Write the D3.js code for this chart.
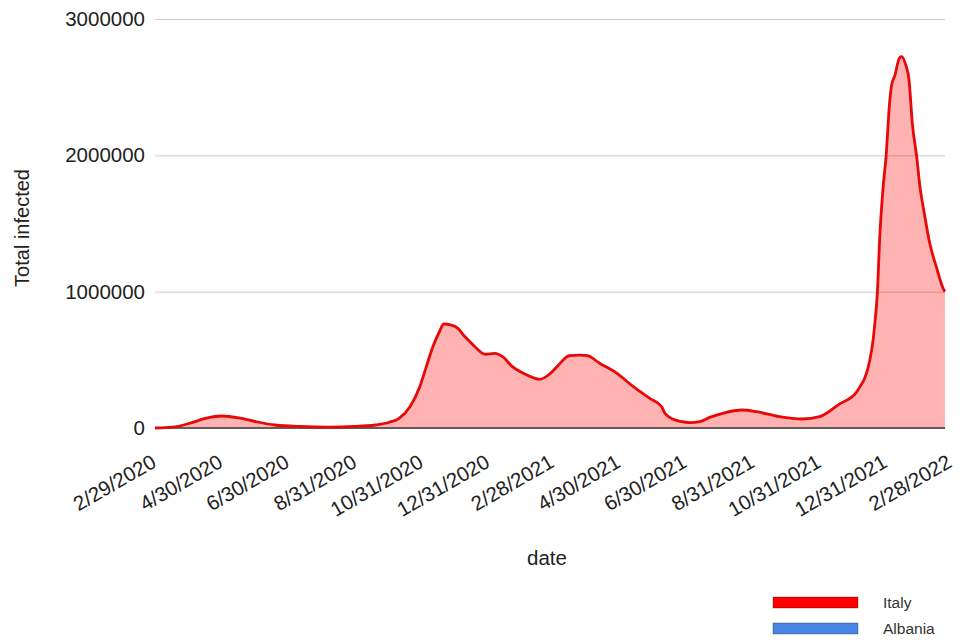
<!DOCTYPE html>
<html>
<head>
<meta charset="utf-8">
<script src="https://cdn.jsdelivr.net/npm/d3@7"></script>
<style>
  html, body { margin: 0; padding: 0; background: #fff; }
  svg { display: block; font-family: "Liberation Sans", Arial, sans-serif; }
</style>
</head>
<body>
<svg id="chart" width="963" height="641"></svg>
<script>
// Italy, total infected (active cases) by date
const dates = [
  "2/28/2020","3/15/2020","3/31/2020","4/14/2020","4/29/2020","5/16/2020","6/1/2020","6/17/2020",
  "7/10/2020","8/6/2020","8/29/2020","9/17/2020","9/30/2020","10/9/2020","10/19/2020","10/28/2020",
  "11/3/2020","11/9/2020","11/15/2020","11/19/2020","11/26/2020","12/2/2020","12/7/2020","12/13/2020",
  "12/19/2020","12/27/2020","1/5/2021","1/12/2021","1/21/2021","1/31/2021","2/9/2021","2/15/2021",
  "2/24/2021","3/5/2021","3/14/2021","3/24/2021","3/31/2021","4/11/2021","4/27/2021","5/12/2021",
  "5/27/2021","6/7/2021","6/10/2021","6/17/2021","7/3/2021","7/12/2021","7/21/2021","8/2/2021",
  "8/20/2021","9/2/2021","9/23/2021","10/14/2021","10/30/2021","11/17/2021","12/3/2021","12/6/2021",
  "12/10/2021","12/13/2021","12/16/2021","12/18/2021","12/20/2021","12/22/2021","12/24/2021","12/27/2021",
  "12/30/2021","1/2/2022","1/4/2022","1/7/2022","1/11/2022","1/13/2022","1/17/2022","1/20/2022",
  "1/23/2022","1/27/2022","1/30/2022","2/3/2022","2/8/2022","2/14/2022","2/21/2022","2/22/2022"
];
const italy = [
  0, 6000, 35000, 70000, 88000, 73000, 44000, 22000,
  11000, 7000, 11000, 22000, 42000, 71000, 156000, 303000,
  450000, 596000, 706000, 763000, 755000, 731000, 682000, 633000,
  585000, 541000, 548000, 523000, 450000, 401000, 369000, 357000,
  395000, 468000, 530000, 535000, 530000, 475000, 401000, 303000,
  218000, 156000, 108000, 66000, 39000, 46000, 78000, 108000,
  132000, 120000, 83000, 66000, 83000, 175000, 265000, 303000,
  360000, 430000, 540000, 645000, 800000, 1000000, 1380000, 1746000,
  2000000, 2370000, 2515000, 2587000, 2711000, 2724000, 2663000, 2553000,
  2235000, 1990000, 1770000, 1575000, 1355000, 1183000, 1012000, 1000000
];

const xTickLabels = [
  "2/29/2020","4/30/2020","6/30/2020","8/31/2020","10/31/2020","12/31/2020",
  "2/28/2021","4/30/2021","6/30/2021","8/31/2021","10/31/2021","12/31/2021","2/28/2022"
];
const yTicks = [0, 1000000, 2000000, 3000000];

const seriesNames = ["Italy", "Albania"];
const seriesColors = ["#ff0000", "#4a86e8"];

const parse = d3.timeParse("%m/%d/%Y");
const data = dates.map((d, i) => ({ date: parse(d), value: italy[i] }));

const svg = d3.select("#chart");
const plotLeft = 155, plotRight = 945, plotTop = 19, plotBottom = 428;

const x = d3.scaleTime()
  .domain([parse("2/28/2020"), parse("2/22/2022")])
  .range([plotLeft, plotRight]);
const y = d3.scaleLinear()
  .domain([0, 3000000])
  .range([plotBottom, plotTop]);

// horizontal gridlines + value labels
const yAxis = svg.append("g")
  .attr("transform", `translate(${plotLeft},0)`)
  .call(d3.axisLeft(y).tickValues(yTicks).tickFormat(d3.format("d"))
    .tickSize(-(plotRight - plotLeft)).tickPadding(10));
yAxis.select(".domain").remove();
yAxis.selectAll(".tick line").attr("stroke", "#cccccc").attr("stroke-width", 1);
yAxis.selectAll(".tick text")
  .attr("fill", "#222").attr("font-size", "20.5px")
  .attr("font-family", "'Liberation Sans', Arial, sans-serif");

// filled area and outline
const area = d3.area()
  .x(d => x(d.date)).y0(y(0)).y1(d => y(d.value))
  .curve(d3.curveMonotoneX);
const line = d3.line()
  .x(d => x(d.date)).y(d => y(d.value))
  .curve(d3.curveMonotoneX);

svg.append("path").datum(data)
  .attr("d", area)
  .attr("fill", seriesColors[0]).attr("fill-opacity", 0.3);

// baseline
svg.append("line")
  .attr("x1", plotLeft).attr("x2", plotRight)
  .attr("y1", y(0)).attr("y2", y(0))
  .attr("stroke", "#3a3a3a").attr("stroke-width", 1.5);

svg.append("path").datum(data)
  .attr("d", line)
  .attr("fill", "none")
  .attr("stroke", "#e80808").attr("stroke-width", 2.8)
  .attr("stroke-linejoin", "round");

// slanted date labels
const xAxis = svg.append("g")
  .attr("transform", `translate(0,${plotBottom})`)
  .call(d3.axisBottom(x).tickValues(xTickLabels.map(parse))
    .tickFormat((d, i) => xTickLabels[i]).tickSize(0));
xAxis.select(".domain").remove();
xAxis.selectAll(".tick text")
  .attr("x", 0).attr("y", 0).attr("dy", 0)
  .attr("transform", "translate(1,38) rotate(-30)")
  .attr("text-anchor", "end")
  .attr("fill", "#222").attr("font-size", "20.5px")
  .attr("font-family", "'Liberation Sans', Arial, sans-serif");

// axis titles
svg.append("text")
  .attr("x", 547).attr("y", 565)
  .attr("text-anchor", "middle")
  .attr("font-size", "20.5px").attr("fill", "#222")
  .text("date");

svg.append("text")
  .attr("transform", "translate(29,228) rotate(-90)")
  .attr("text-anchor", "middle")
  .attr("font-size", "20px").attr("fill", "#222")
  .text("Total infected");

// legend
const legend = svg.append("g");
seriesNames.forEach((name, i) => {
  const gy = 597 + i * 26;
  legend.append("rect")
    .attr("x", 773).attr("y", gy).attr("width", 85).attr("height", 11)
    .attr("fill", seriesColors[i])
    .attr("stroke", "rgba(0,0,0,0.3)").attr("stroke-width", 1);
  legend.append("text")
    .attr("x", 883).attr("y", gy + 11)
    .attr("font-size", "15.5px").attr("fill", "#333")
    .text(name);
});
</script>
</body>
</html>
